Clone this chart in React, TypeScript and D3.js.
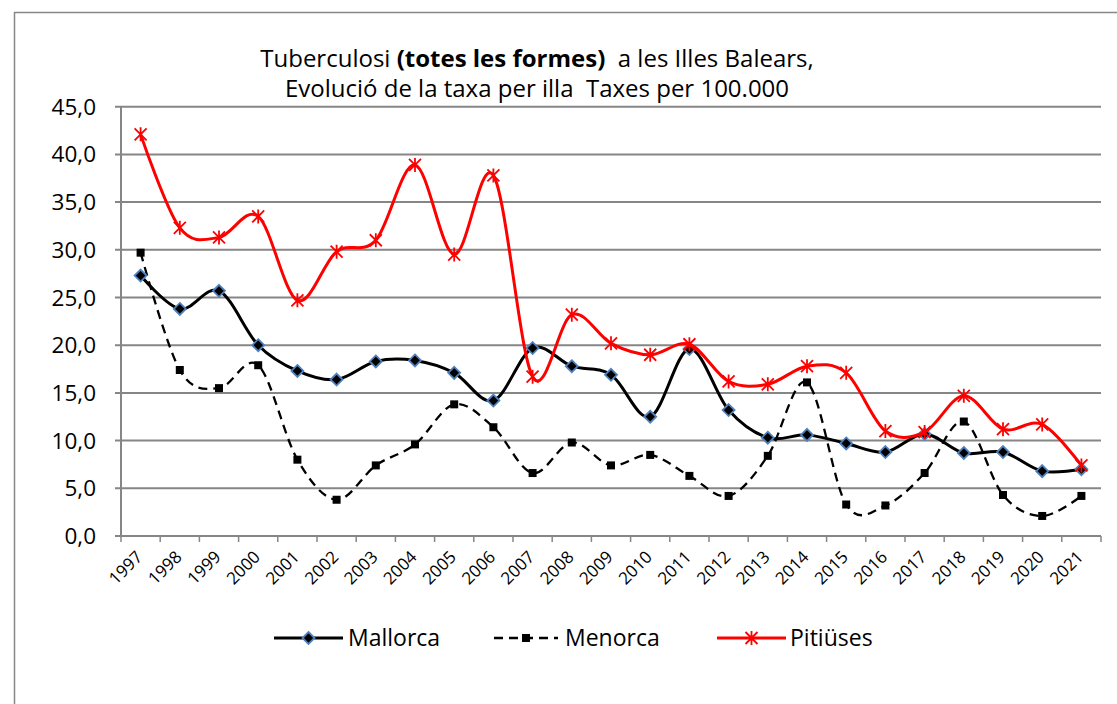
import React, { useEffect, useRef } from "react";
import * as d3 from "d3";

const years = ["1997", "1998", "1999", "2000", "2001", "2002", "2003", "2004", "2005", "2006", "2007", "2008", "2009", "2010", "2011", "2012", "2013", "2014", "2015", "2016", "2017", "2018", "2019", "2020", "2021"];

const mallorca = [27.3, 23.8, 25.7, 20.0, 17.3, 16.4, 18.3, 18.4, 17.1, 14.2, 19.7, 17.8, 16.9, 12.5, 19.6, 13.2, 10.3, 10.6, 9.7, 8.8, 10.7, 8.7, 8.8, 6.8, 7.0];
const menorca = [29.7, 17.4, 15.5, 17.9, 8.0, 3.8, 7.4, 9.6, 13.8, 11.4, 6.6, 9.8, 7.4, 8.5, 6.3, 4.2, 8.4, 16.1, 3.3, 3.2, 6.6, 12.0, 4.3, 2.1, 4.2];
const pitiuses = [42.1, 32.3, 31.3, 33.5, 24.7, 29.8, 31.0, 38.9, 29.5, 37.8, 16.7, 23.2, 20.2, 19.0, 20.1, 16.2, 15.9, 17.8, 17.1, 11.0, 10.9, 14.7, 11.2, 11.7, 7.4];

const yTicks = [0, 5, 10, 15, 20, 25, 30, 35, 40, 45];

const seriesNames = ["Mallorca", "Menorca", "Pitiüses"];

const W = 1117;
const H = 704;
const FONT = "'Open Sans', 'Noto Sans', sans-serif";

type Marker = "diamond" | "square" | "star";

function drawMarker(g: any, kind: Marker, x: number, y: number) {
  if (kind === "diamond") {
    g.append("path")
      .attr("d", `M ${x} ${y - 6} L ${x + 6} ${y} L ${x} ${y + 6} L ${x - 6} ${y} Z`)
      .attr("fill", "#000")
      .attr("stroke", "#4f81bd")
      .attr("stroke-width", 1.8);
  } else if (kind === "square") {
    g.append("rect")
      .attr("x", x - 4)
      .attr("y", y - 4)
      .attr("width", 8)
      .attr("height", 8)
      .attr("fill", "#000");
  } else {
    const r = 6;
    g.append("path")
      .attr("d", `M ${x - r} ${y - r} L ${x + r} ${y + r} M ${x - r} ${y + r} L ${x + r} ${y - r} M ${x} ${y - r - 1} L ${x} ${y + r + 1}`)
      .attr("stroke", "#ff0000")
      .attr("stroke-width", 1.8)
      .attr("fill", "none");
  }
}

export default function App() {
  const ref = useRef<SVGSVGElement>(null);

  useEffect(() => {
    const svg = d3.select(ref.current);
    svg.selectAll("*").remove();

    const left = 121;
    const right = 1101;
    const top = 106.7;
    const bottom = 536;

    const x = d3.scaleBand().domain(years).range([left, right]);
    const y = d3.scaleLinear().domain([0, 45]).range([bottom, top]);

    svg.append("rect")
      .attr("x", 0).attr("y", 0).attr("width", W).attr("height", H)
      .attr("fill", "#fff");

    // outer frame
    svg.append("rect")
      .attr("x", 14.5).attr("y", 12.5).attr("width", 1200).attr("height", 800)
      .attr("fill", "none").attr("stroke", "#868686").attr("stroke-width", 1.5);

    // title
    const title = svg.append("text")
      .attr("x", 537).attr("y", 67)
      .attr("text-anchor", "middle")
      .attr("xml:space", "preserve")
      .style("white-space", "pre")
      .attr("font-family", FONT).attr("font-size", 24).attr("fill", "#000");
    title.append("tspan").text("Tuberculosi ");
    title.append("tspan").attr("font-weight", "bold").text("(totes les formes)");
    title.append("tspan").text("  a les Illes Balears,");
    svg.append("text")
      .attr("x", 537).attr("y", 97)
      .attr("text-anchor", "middle")
      .attr("font-family", FONT).attr("font-size", 24).attr("fill", "#000")
      .attr("xml:space", "preserve")
      .style("white-space", "pre")
      .text("Evolució de la taxa per illa  Taxes per 100.000");

    // grid
    svg.append("g")
      .selectAll("line")
      .data(yTicks)
      .join("line")
      .attr("x1", left - 6).attr("x2", right)
      .attr("y1", (d) => y(d)).attr("y2", (d) => y(d))
      .attr("stroke", "#868686").attr("stroke-width", 2);

    // y axis
    svg.append("line")
      .attr("x1", left).attr("x2", left).attr("y1", top).attr("y2", bottom)
      .attr("stroke", "#868686").attr("stroke-width", 2);

    svg.append("g")
      .selectAll("text")
      .data(yTicks)
      .join("text")
      .attr("x", 96).attr("y", (d) => y(d) + 8)
      .attr("text-anchor", "end")
      .attr("font-family", FONT).attr("font-size", 22.5).attr("fill", "#000")
      .text((d) => d3.format(".1f")(d).replace(".", ","));

    // x ticks
    const bounds = years.map((yr) => x(yr) as number).concat([right]);
    svg.append("g")
      .selectAll("line")
      .data(bounds)
      .join("line")
      .attr("x1", (d) => d).attr("x2", (d) => d)
      .attr("y1", bottom).attr("y2", bottom + 6)
      .attr("stroke", "#868686").attr("stroke-width", 1.5);

    const cx = (yr: string) => (x(yr) as number) + x.bandwidth() / 2;

    svg.append("g")
      .selectAll("text")
      .data(years)
      .join("text")
      .attr("transform", (d) => `translate(${cx(d) + 3},${bottom + 22}) rotate(-45)`)
      .attr("text-anchor", "end")
      .attr("font-family", FONT).attr("font-size", 17).attr("fill", "#000")
      .text((d) => d);

    const line = d3.line<number>()
      .x((_, i) => cx(years[i]))
      .y((d) => y(d))
      .curve(d3.curveCardinal.tension(0));

    const series = [
      { values: menorca, color: "#000", width: 2.3, dash: "9,6", marker: "square" as Marker },
      { values: mallorca, color: "#000", width: 3, dash: null, marker: "diamond" as Marker },
      { values: pitiuses, color: "#ff0000", width: 3, dash: null, marker: "star" as Marker },
    ];

    series.forEach((s) => {
      svg.append("path")
        .attr("d", line(s.values))
        .attr("fill", "none")
        .attr("stroke", s.color)
        .attr("stroke-width", s.width)
        .attr("stroke-dasharray", s.dash);
      const mg = svg.append("g");
      s.values.forEach((v, i) => drawMarker(mg, s.marker, cx(years[i]), y(v)));
    });

    // legend
    const legend = [
      { name: seriesNames[0], x1: 274, x2: 343, color: "#000", width: 3, dash: null, marker: "diamond" as Marker, tx: 348 },
      { name: seriesNames[1], x1: 494, x2: 558, color: "#000", width: 2.3, dash: "9,6", marker: "square" as Marker, tx: 565 },
      { name: seriesNames[2], x1: 717, x2: 786, color: "#ff0000", width: 3, dash: null, marker: "star" as Marker, tx: 790 },
    ];
    const ly = 638;
    legend.forEach((l) => {
      svg.append("line")
        .attr("x1", l.x1).attr("x2", l.x2).attr("y1", ly).attr("y2", ly)
        .attr("stroke", l.color).attr("stroke-width", l.width)
        .attr("stroke-dasharray", l.dash);
      drawMarker(svg.append("g"), l.marker, (l.x1 + l.x2) / 2, ly);
      svg.append("text")
        .attr("x", l.tx).attr("y", ly + 8)
        .attr("font-family", FONT).attr("font-size", 23).attr("fill", "#000")
        .text(l.name);
    });
  }, []);

  return (
    <svg
      ref={ref}
      width={W}
      height={H}
      style={{ position: "absolute", left: 0, top: 0, display: "block" }}
    />
  );
}
